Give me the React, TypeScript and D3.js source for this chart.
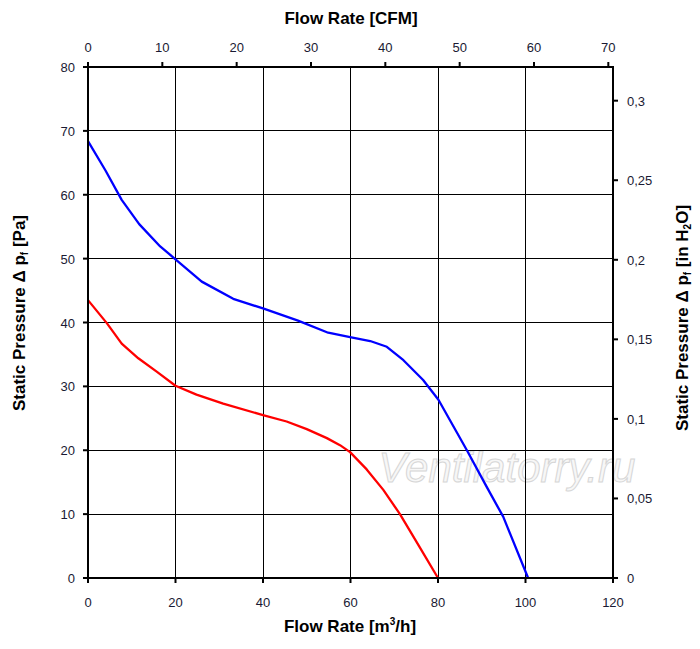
import React from "react";
import * as d3 from "d3";

const flowTicks = [0, 20, 40, 60, 80, 100, 120];
const cfmTicks = [0, 10, 20, 30, 40, 50, 60, 70];
const paTicks = [0, 10, 20, 30, 40, 50, 60, 70, 80];
const inH2OTicks = [0, 0.05, 0.1, 0.15, 0.2, 0.25, 0.3];

const blueFlow = [0, 4, 7.7, 11.7, 16.5, 20, 26, 33.2, 40, 48, 54.9, 59.9, 64.5, 68.3, 72.1, 76.6, 80.1, 86.6, 91.1, 94.9, 100.6];
const bluePa = [68.4, 63.8, 59.2, 55.4, 51.9, 49.9, 46.4, 43.7, 42.2, 40.3, 38.4, 37.7, 37.1, 36.2, 34.1, 31.0, 27.9, 20.0, 14.3, 9.6, 0];

const redFlow = [0, 4.3, 7.7, 11.5, 15.7, 20, 24.8, 30.9, 40, 45.4, 50, 54.6, 57.6, 59.9, 63.7, 67.5, 71.3, 75.5, 80];
const redPa = [43.5, 39.9, 36.7, 34.4, 32.3, 30.1, 28.7, 27.3, 25.5, 24.5, 23.3, 21.9, 20.8, 19.7, 17.0, 13.8, 10.0, 5.2, 0];

const CFM_PER_M3H = 1 / 1.699;
const INH2O_PER_PA = 1 / 249.09;

const L = 88, R = 613, T = 67, B = 578;
const font = "Arial, 'Liberation Sans', sans-serif";
const tickColor = "#1a1a33";

export default function App() {
  const x = d3.scaleLinear().domain([0, 120]).range([L, R]);
  const y = d3.scaleLinear().domain([0, 80]).range([B, T]);
  const xTop = d3.scaleLinear().domain([0, 120 * CFM_PER_M3H]).range([L, R]);
  const yRight = d3.scaleLinear().domain([0, 80 * INH2O_PER_PA]).range([B, T]);

  const line = d3
    .line<[number, number]>()
    .x((d) => x(d[0]))
    .y((d) => y(d[1]));

  const blue: [number, number][] = blueFlow.map((v, i) => [v, bluePa[i]]);
  const red: [number, number][] = redFlow.map((v, i) => [v, redPa[i]]);
  const fmtComma = (v: number) => String(+v.toFixed(2)).replace(".", ",");

  return (
    <svg
      width={700}
      height={649}
      style={{ position: "absolute", left: 0, top: 0, background: "#fff" }}
      fontFamily={font}
    >
      <rect x={0} y={0} width={700} height={649} fill="#fff" />
      {/* watermark */}
      <text
        x={507}
        y={482}
        textAnchor="middle"
        fontSize={42}
        fontStyle="italic"
        fill="#f7f7f7"
        stroke="#d6d6d6"
        strokeWidth={1}
      >
        Ventilatorry.ru
      </text>
      {/* grid */}
      <g shapeRendering="crispEdges" stroke="#000" strokeWidth={1}>
        {flowTicks.slice(1, -1).map((t) => (
          <line key={"gx" + t} x1={x(t)} x2={x(t)} y1={T} y2={B} />
        ))}
        {paTicks.slice(1, -1).map((t) => (
          <line key={"gy" + t} x1={L} x2={R} y1={y(t)} y2={y(t)} />
        ))}
      </g>
      {/* curves */}
      <path d={line(blue) || ""} fill="none" stroke="#0000ff" strokeWidth={2.3} strokeLinejoin="round" />
      <path d={line(red) || ""} fill="none" stroke="#ff0000" strokeWidth={2.3} strokeLinejoin="round" />
      {/* frame */}
      <rect x={L} y={T} width={R - L} height={B - T} fill="none" stroke="#000" strokeWidth={2} />
      {/* bottom axis */}
      <g>
        {flowTicks.map((t) => (
          <g key={"bt" + t}>
            <line x1={x(t)} x2={x(t)} y1={B} y2={B + 5} stroke="#000" strokeWidth={2} />
            <text x={x(t)} y={607} textAnchor="middle" fontSize={13} fill={tickColor}>
              {t}
            </text>
          </g>
        ))}
      </g>
      {/* top axis */}
      <g>
        {cfmTicks.map((t) => (
          <g key={"tt" + t}>
            <line x1={xTop(t)} x2={xTop(t)} y1={T} y2={T - 5} stroke="#000" strokeWidth={2} />
            <text x={xTop(t)} y={52} textAnchor="middle" fontSize={13} fill={tickColor}>
              {t}
            </text>
          </g>
        ))}
      </g>
      {/* left axis */}
      <g>
        {paTicks.map((t) => (
          <g key={"lt" + t}>
            <line x1={L} x2={L - 5} y1={y(t)} y2={y(t)} stroke="#000" strokeWidth={2} />
            <text x={75} y={y(t) + 5} textAnchor="end" fontSize={13} fill={tickColor}>
              {t}
            </text>
          </g>
        ))}
      </g>
      {/* right axis */}
      <g>
        {inH2OTicks.map((t) => (
          <g key={"rt" + t}>
            <line x1={R} x2={R + 5} y1={yRight(t)} y2={yRight(t)} stroke="#000" strokeWidth={2} />
            <text x={627} y={yRight(t) + 5} textAnchor="start" fontSize={13} fill={tickColor}>
              {fmtComma(t)}
            </text>
          </g>
        ))}
      </g>
      {/* titles */}
      <text x={351} y={24} textAnchor="middle" fontSize={17} fontWeight="bold" fill="#000">
        Flow Rate [CFM]
      </text>
      <text x={350} y={632} textAnchor="middle" fontSize={17} fontWeight="bold" fill="#000">
        Flow Rate [m<tspan fontSize={10} dy={-7}>3</tspan>
        <tspan dy={7}>/h]</tspan>
      </text>
      <text
        transform={`translate(25, 313) rotate(-90)`}
        textAnchor="middle"
        fontSize={17}
        fontWeight="bold"
        fill="#000"
      >
        Static Pressure Δ p<tspan fontSize={10} dy={3}>f</tspan>
        <tspan dy={-3}> [Pa]</tspan>
      </text>
      <text
        transform={`translate(688, 318) rotate(-90)`}
        textAnchor="middle"
        fontSize={17}
        fontWeight="bold"
        fill="#000"
      >
        Static Pressure Δ p<tspan fontSize={10} dy={3}>f</tspan>
        <tspan dy={-3}> [in H</tspan>
        <tspan fontSize={10} dy={3}>2</tspan>
        <tspan dy={-3}>O]</tspan>
      </text>
    </svg>
  );
}
